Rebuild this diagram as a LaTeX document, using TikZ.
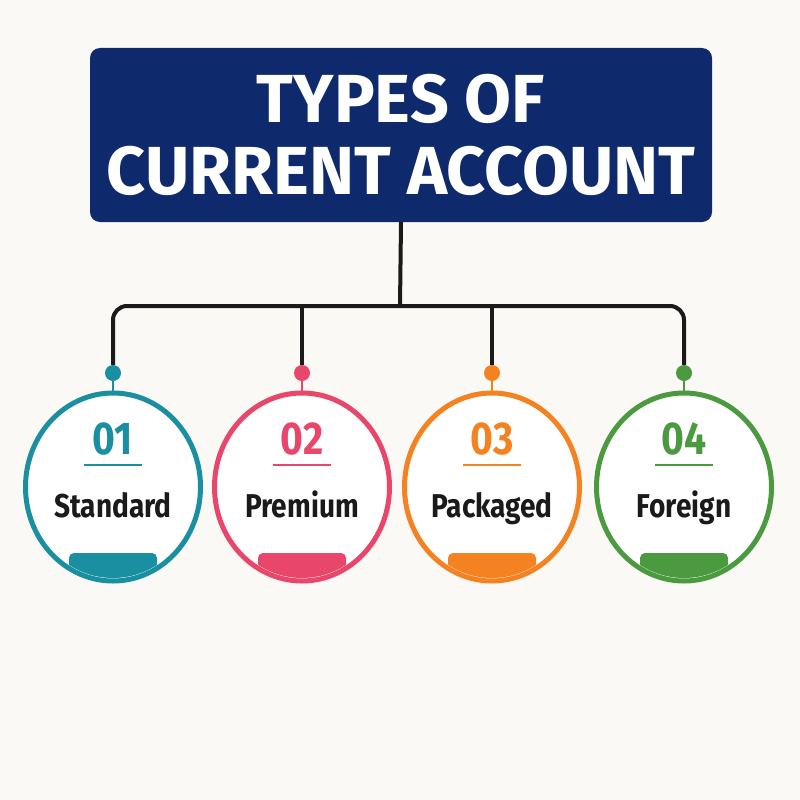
\documentclass[tikz,border=0pt]{standalone}
\usepackage{fontspec}
\usetikzlibrary{shapes.geometric,positioning}
\setmainfont{Fira Sans}
\newfontfamily\headfont{Fira Sans}
\newfontfamily\tagfont[FakeStretch=0.85]{Fira Sans}
\definecolor{paper}{HTML}{FAF9F6}
\definecolor{navy}{HTML}{0E2A6C}
\definecolor{teal}{HTML}{1B8FA2}
\definecolor{pink}{HTML}{E9466B}
\definecolor{orange}{HTML}{F58220}
\definecolor{green}{HTML}{4C9A3F}
\definecolor{ink}{HTML}{1A1A1A}
\tikzset{
  headbox/.style={rectangle,fill=navy,rounded corners=10pt,minimum width=622pt,minimum height=174pt,
    text=white,align=center,font=\headfont\bfseries\fontsize{68}{72}\selectfont},
  ring/.style={ellipse,draw=#1,line width=5pt,fill=white,minimum width=175pt,minimum height=188pt},
  knob/.style={circle,fill=#1,inner sep=0pt,minimum size=16pt},
  num/.style={text=#1,inner sep=0pt,anchor=base,font=\tagfont\bfseries\fontsize{46}{46}\selectfont},
  tag/.style={text=ink,inner sep=0pt,anchor=base,font=\tagfont\bfseries\fontsize{33}{33}\selectfont},
  bus/.style={line width=4pt,ink}
}

\begin{document}
\begin{tikzpicture}[x=1pt,y=-1pt]
  \fill[paper] (0,0) rectangle (800,800);
  \useasboundingbox (0,0) rectangle (800,800);
  \node[headbox] (head) at (401,135) {TYPES OF\\CURRENT ACCOUNT};
  \foreach \x/\c/\n/\t [count=\i] in {113/teal/01/Standard,302/pink/02/Premium,492/orange/03/Packaged,684/green/04/Foreign}{
    \node[ring=\c] (r\i) at (\x,487) {};
    \node[knob=\c] (d\i) at (\x,373) {};
    \draw[\c,line width=2pt] (d\i) -- (r\i.north);
    \node[num=\c] (n\i) at (\x,454) {\n};
    \draw[\c,line width=2pt] (\x-29,465) -- (\x+29,465);
    \node[tag] (t\i) at (\x,517) {\t};
    \begin{scope}
      \clip (r\i.center) ellipse [x radius=85, y radius=91];
      \fill[\c,rounded corners=5pt] (\x-44,553) rectangle (\x+44,600);
    \end{scope}
  }
  % connectors
  \coordinate (hub) at (400,306);
  \draw[bus] (head.south) -- (hub);
  \draw[bus,rounded corners=14pt] (d1.north) |- (hub) -| (d4.north);
  \draw[bus] (d2.north) -- (d2.north |- hub);
  \draw[bus] (d3.north) -- (d3.north |- hub);
\end{tikzpicture}
\end{document}
